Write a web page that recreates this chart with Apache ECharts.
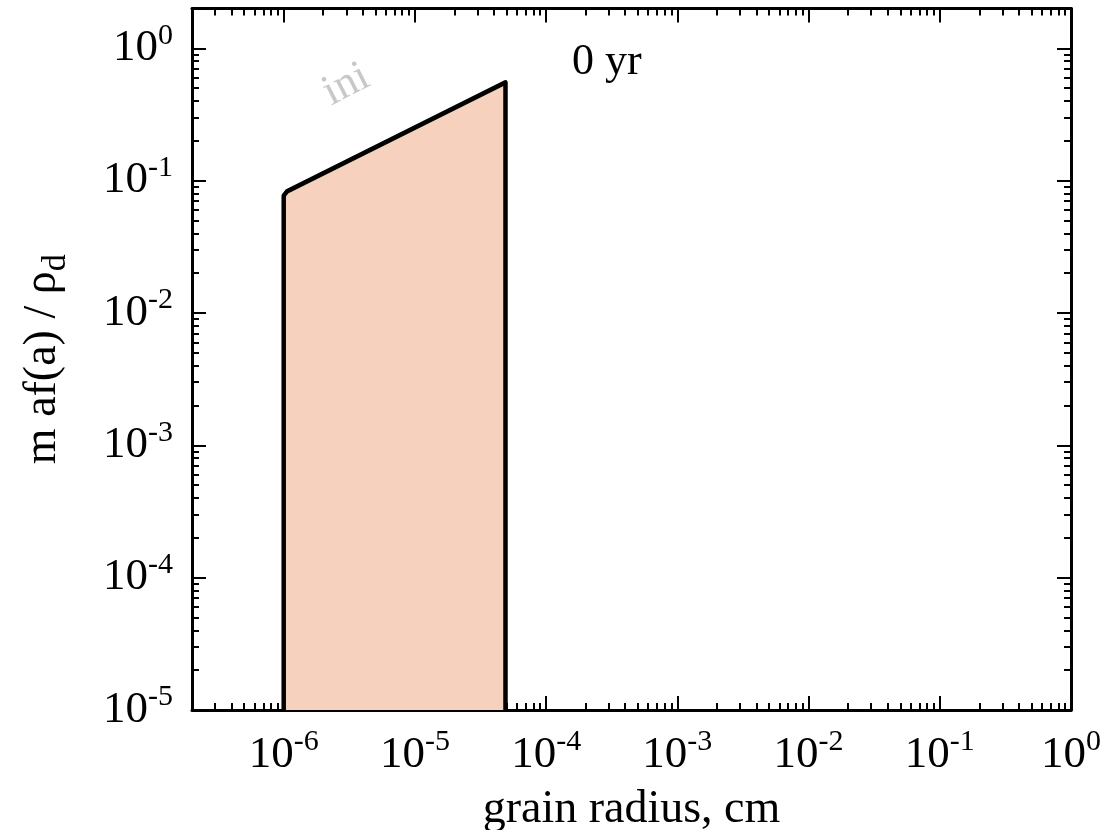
<!DOCTYPE html>
<html>
<head>
<meta charset="utf-8">
<title>Grain size distribution</title>
<script src="https://cdn.jsdelivr.net/npm/echarts@6/dist/echarts.min.js"></script>
<style>
  html, body { margin: 0; padding: 0; background: #ffffff; }
  #chart { width: 1112px; height: 830px; }
</style>
</head>
<body>
<div id="chart"></div>
<script>
// Grain radius (cm) and m·a·f(a)/rho_d for the initial distribution
const radius = [1.0e-6, 1.0e-6, 1.06e-6, 4.9e-5, 4.9e-5];
const massDist = [1e-5, 0.077, 0.083, 0.553, 1e-5];

// Axis ranges (raw units) and decade tick labels
const xRange = [2e-7, 1];
const yRange = [1e-5, 2];
const xDecades = [-6, -5, -4, -3, -2, -1, 0];
const yDecades = [-5, -4, -3, -2, -1, 0];
const minorSteps = [2, 3, 4, 5, 6, 7, 8, 9];

// Annotations
const curveLabel = { text: 'ini', radius: 3.0e-6, value: 0.53 };
const timeLabel = '0 yr';

const lg = Math.log10;
const FONT = '"Liberation Serif", "Times New Roman", serif';

function minorTicks(range) {
  const lo = lg(range[0]), hi = lg(range[1]);
  const out = [];
  for (let d = Math.floor(lo); d < Math.ceil(hi); d++) {
    minorSteps.forEach(k => {
      const v = lg(k) + d;
      if (v > lo + 1e-9 && v < hi - 1e-9) out.push(v);
    });
  }
  return out;
}

const xMin = lg(xRange[0]), xMax = lg(xRange[1]);
const yMin = lg(yRange[0]), yMax = lg(yRange[1]);
const xMinor = minorTicks(xRange);
const yMinor = minorTicks(yRange);

// Powers of ten: base "10" plus a raised exponent
const labelRich = {
  b: { fontFamily: FONT, fontSize: 45, lineHeight: 45, color: '#000' },
  s: { fontFamily: FONT, fontSize: 30, lineHeight: 30, padding: [0, 0, 25, 0], color: '#000' }
};
const powLabel = v => '{b|10}{s|' + Math.round(v) + '}';

const frameLine = { show: true, onZero: false, lineStyle: { color: '#000', width: 3 } };
const noLine = { show: false, onZero: false };

function xAxisDef(position, ticks, len, withLabels) {
  return {
    type: 'value', position: position, min: xMin, max: xMax,
    axisLine: withLabels !== null ? frameLine : noLine,
    splitLine: { show: false },
    axisTick: { show: true, inside: true, length: len, customValues: ticks,
                lineStyle: { color: '#000', width: 2 } },
    axisLabel: withLabels ? {
      show: true, customValues: xDecades, margin: 22.5,
      formatter: powLabel, rich: labelRich
    } : { show: false },
    name: withLabels ? 'grain radius, cm' : '',
    nameLocation: 'middle', nameGap: 68,
    nameTextStyle: { fontFamily: FONT, fontSize: 46, color: '#000' }
  };
}

function yAxisDef(position, ticks, len, withLabels) {
  return {
    type: 'value', position: position, min: yMin, max: yMax,
    axisLine: withLabels !== null ? frameLine : noLine,
    splitLine: { show: false },
    axisTick: { show: true, inside: true, length: len, customValues: ticks,
                lineStyle: { color: '#000', width: 2 } },
    axisLabel: withLabels ? {
      show: true, customValues: yDecades, margin: 19,
      formatter: powLabel, rich: labelRich
    } : { show: false },
    name: withLabels ? 'm af(a) / ρ{sub|d}' : '',
    nameLocation: 'middle', nameGap: 126, nameRotate: 90,
    nameTextStyle: {
      fontFamily: FONT, fontSize: 46, lineHeight: 46, color: '#000',
      rich: {
        sub: { fontFamily: FONT, fontSize: 34, lineHeight: 34, padding: [26, 0, 0, 0], color: '#000' }
      }
    }
  };
}

const chart = echarts.init(document.getElementById('chart'), null, { renderer: 'canvas' });

chart.setOption({
  backgroundColor: '#ffffff',
  animation: false,
  title: {
    text: timeLabel, left: 572, top: 40, padding: 0,
    textStyle: { fontFamily: FONT, fontSize: 44, fontWeight: 'normal', color: '#000' }
  },
  grid: { left: 192, right: 41, top: 8.5, bottom: 120, containLabel: false, outerBoundsMode: 'none' },
  xAxis: [
    xAxisDef('bottom', xDecades, 14, true),
    xAxisDef('top', xDecades, 14, false),
    xAxisDef('bottom', xMinor, 7, null),
    xAxisDef('top', xMinor, 7, null)
  ],
  yAxis: [
    yAxisDef('left', yDecades, 14, true),
    yAxisDef('right', yDecades, 14, false),
    yAxisDef('left', yMinor, 7, null),
    yAxisDef('right', yMinor, 7, null)
  ],
  series: [{
    type: 'line',
    xAxisIndex: 0, yAxisIndex: 0,
    data: radius.map((r, i) => [lg(r), lg(massDist[i])]),
    symbol: 'none',
    lineStyle: { color: '#000', width: 4.5, join: 'round' },
    areaStyle: { color: '#f6d1bd', opacity: 1, origin: 'start' },
    z: 1,
    markPoint: {
      symbol: 'circle', symbolSize: 0, silent: true,
      data: [{
        coord: [lg(curveLabel.radius), lg(curveLabel.value)],
        label: {
          show: true, formatter: curveLabel.text, position: 'inside',
          rotate: 27, color: '#c8c8c8', fontFamily: FONT, fontSize: 44
        }
      }]
    }
  }]
});
</script>
</body>
</html>
